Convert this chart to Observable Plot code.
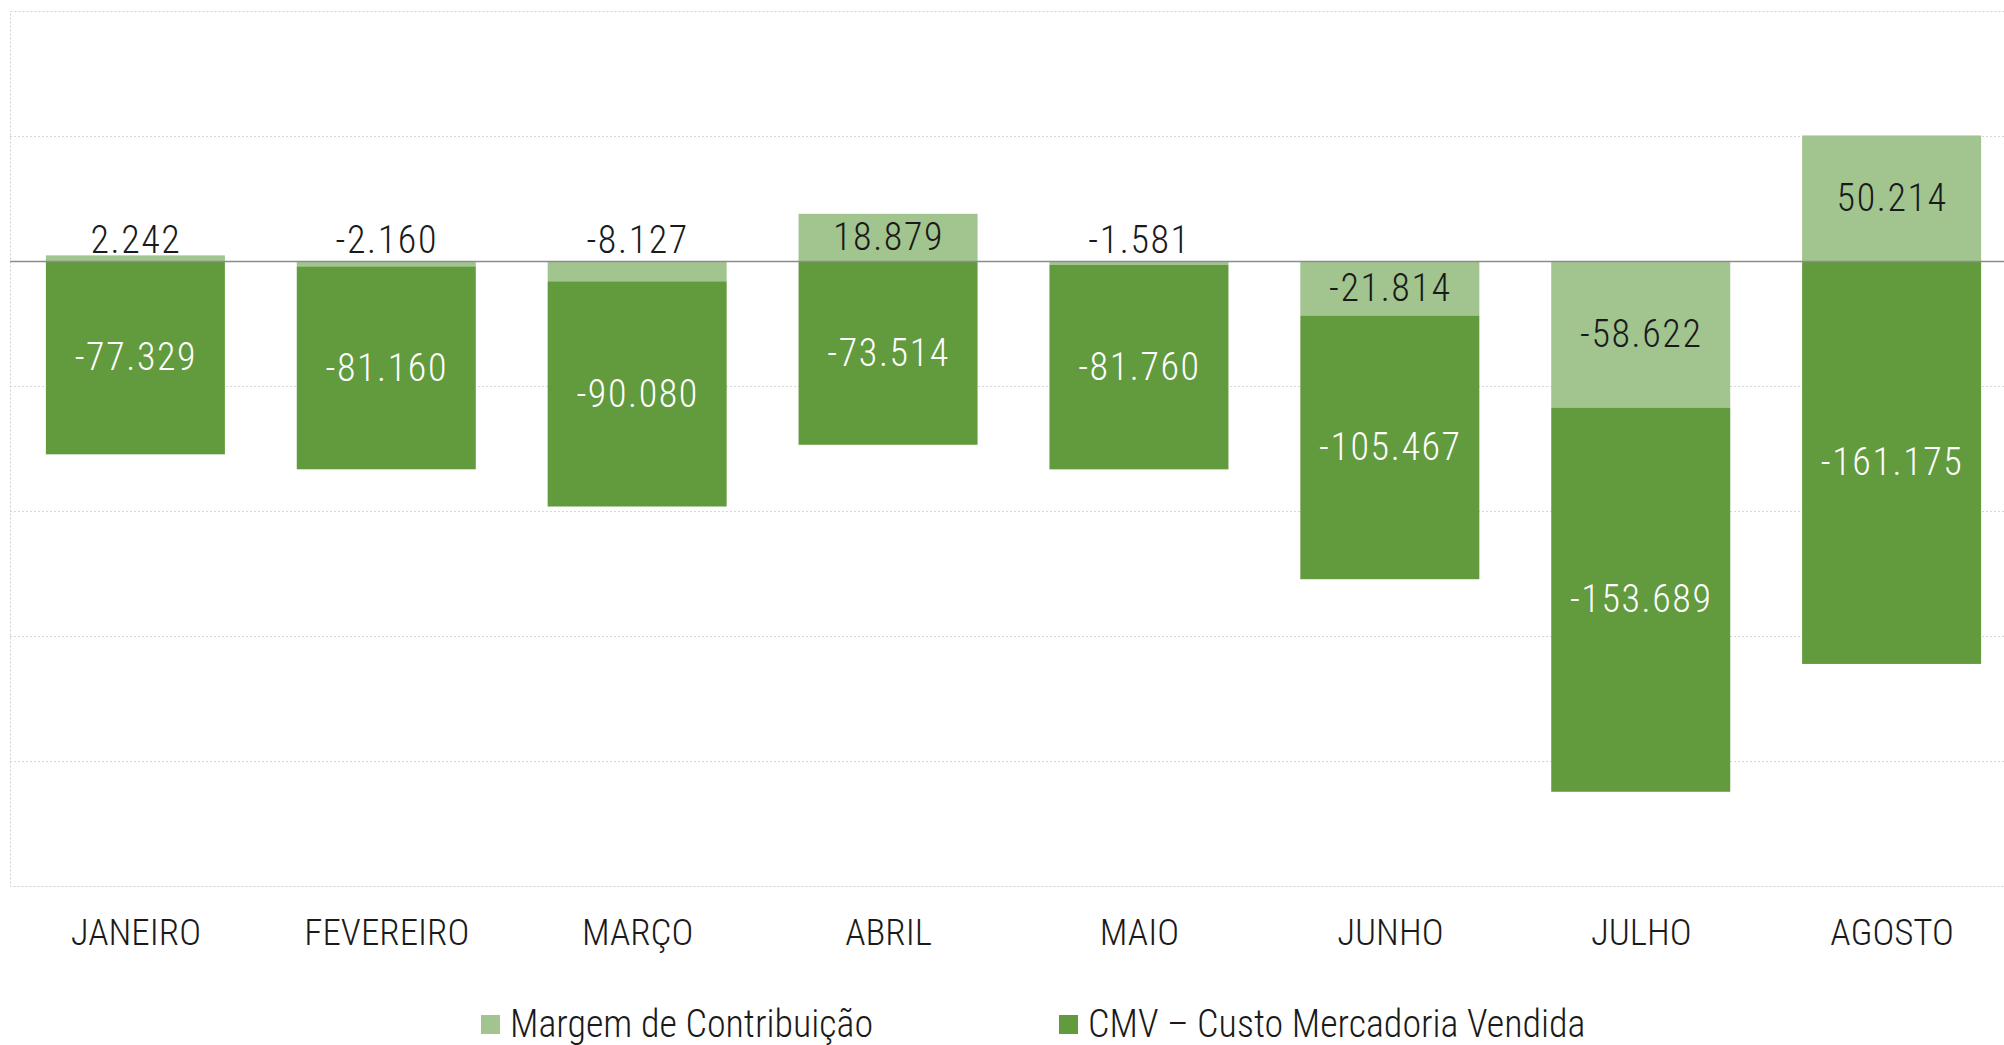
<!DOCTYPE html>
<html>
<head>
<meta charset="utf-8">
<script src="https://cdn.jsdelivr.net/npm/d3@7"></script>
<script src="https://cdn.jsdelivr.net/npm/@observablehq/plot@0.6"></script>
<style>
  html, body { margin: 0; padding: 0; background: #fff; overflow: hidden; }
  #chart svg { display: block; }
  #chart g[aria-label="text"] text { letter-spacing: 1.6px; }
  #chart g[aria-label="text"].months text { letter-spacing: 0; }
  .legend { position: relative; height: 70px; font-family: "Roboto Condensed", "Lato", sans-serif; font-weight: 300; font-size: 38px; color: #1a1a1a; }
  .legend .item { position: absolute; top: 0; display: flex; align-items: center; white-space: nowrap; }
  .legend .sw { width: 19px; height: 19px; margin-right: 10px; }
</style>
</head>
<body>
<div id="chart"></div>
<div class="legend" id="legend"></div>
<script>
const months = ["JANEIRO", "FEVEREIRO", "MARÇO", "ABRIL", "MAIO", "JUNHO", "JULHO", "AGOSTO"];
const margem = [2242, -2160, -8127, 18879, -1581, -21814, -58622, 50214];
const cmv = [-77329, -81160, -90080, -73514, -81760, -105467, -153689, -161175];
const seriesNames = ["Margem de Contribuição", "CMV – Custo Mercadoria Vendida"];
const seriesColors = ["#a2c48f", "#629a3e"];
const yTicks = [-250000, -200000, -150000, -100000, -50000, 0, 50000, 100000];

const fmt = v => v.toLocaleString("pt-BR");
const rows = months.flatMap((m, i) => [
  {month: m, series: seriesNames[0], value: margem[i]},
  {month: m, series: seriesNames[1], value: cmv[i]}
]);
const small = d => d.series === seriesNames[0] && Math.abs(d.value) < 15000;

const font = '"Roboto Condensed", "Lato", sans-serif';

const chart = Plot.plot({
  width: 2004,
  height: 975,
  marginLeft: 10,
  marginRight: -13,
  marginTop: 11,
  marginBottom: 89,
  style: {fontFamily: font, fontSize: "38px", fontWeight: 300, background: "#fff"},
  x: {domain: months, paddingInner: 0.2865, paddingOuter: 0.143, round: false, axis: null},
  y: {domain: [-250000, 100000], axis: null},
  color: {domain: seriesNames, range: seriesColors},
  marks: [
    Plot.ruleY(yTicks.filter(t => t !== 0 && t !== -250000 && t !== 100000), {stroke: "#d6d6d6", strokeDasharray: "2,2", strokeWidth: 1}),
    Plot.frame({stroke: "#cfcfcf", strokeDasharray: "2,2"}),
    Plot.barY(rows, Plot.stackY({x: "month", y: "value", fill: "series"})),
    Plot.ruleY([0], {stroke: "#8c8c8c", strokeWidth: 1.5}),
    Plot.text(rows, Plot.stackY({
      x: "month", y: "value", z: "series",
      text: d => d.series === seriesNames[1] ? fmt(d.value) : "",
      fill: "white", lineAnchor: "middle", fontSize: 38
    })),
    Plot.text(rows, Plot.stackY({
      x: "month", y: "value", z: "series",
      text: d => d.series === seriesNames[0] && !small(d) ? fmt(d.value) : "",
      fill: "#1a1a1a", lineAnchor: "middle", fontSize: 38
    })),
    Plot.text(rows.filter(small), {
      x: "month", y: d => 0, text: d => fmt(d.value),
      dy: -21, fill: "#1a1a1a", lineAnchor: "middle", fontSize: 38
    }),
    Plot.text(months, {x: d => d, frameAnchor: "bottom", dy: 47, lineAnchor: "middle", fill: "#1a1a1a", fontSize: 37})
  ]
});
const textGroups = chart.querySelectorAll('g[aria-label="text"]');
if (textGroups.length) textGroups[textGroups.length - 1].classList.add("months");
document.getElementById("chart").appendChild(chart);

const legend = document.getElementById("legend");
const legendLeft = [481, 1059];
seriesNames.forEach((name, i) => {
  const item = document.createElement("div");
  item.className = "item";
  item.style.left = legendLeft[i] + "px";
  item.style.top = "27px";
  const sw = document.createElement("span");
  sw.className = "sw";
  sw.style.background = seriesColors[i];
  const label = document.createElement("span");
  label.textContent = name;
  item.appendChild(sw);
  item.appendChild(label);
  legend.appendChild(item);
});
</script>
</body>
</html>
